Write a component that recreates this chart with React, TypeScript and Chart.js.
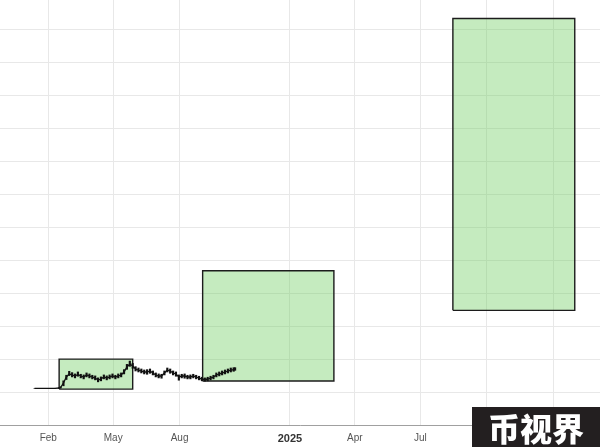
import React, { useEffect, useRef } from 'react';
import { Chart, registerables } from 'chart.js';

Chart.register(...registerables);

// ---- price series (daily-ish samples) ----
const priceDates = [
  '2024-01-13', '2024-02-10', '2024-02-16', '2024-02-18', '2024-02-22', '2024-02-26',
  '2024-03-01', '2024-03-05', '2024-03-09', '2024-03-13', '2024-03-17', '2024-03-21',
  '2024-03-25', '2024-03-29', '2024-04-02', '2024-04-06', '2024-04-10', '2024-04-14',
  '2024-04-18', '2024-04-22', '2024-04-26', '2024-04-30', '2024-05-04', '2024-05-08',
  '2024-05-12', '2024-05-16', '2024-05-20', '2024-05-24', '2024-05-28', '2024-06-01',
  '2024-06-05', '2024-06-09', '2024-06-13', '2024-06-17', '2024-06-21', '2024-06-25',
  '2024-06-29', '2024-07-03', '2024-07-07', '2024-07-11', '2024-07-15', '2024-07-19',
  '2024-07-23', '2024-07-27', '2024-07-31', '2024-08-04', '2024-08-08', '2024-08-12',
  '2024-08-16', '2024-08-20', '2024-08-24', '2024-08-28', '2024-09-01', '2024-09-05',
  '2024-09-09', '2024-09-13', '2024-09-17', '2024-09-21', '2024-09-25', '2024-09-29',
  '2024-10-03', '2024-10-07', '2024-10-11', '2024-10-15', '2024-10-17',
];
const priceClose = [
  11.14, 11.14, 11.23, 11.38, 12.75, 14.57,
  15.48, 15.18, 14.87, 15.33, 14.87, 14.57,
  15.18, 14.87, 14.57, 14.26, 13.66, 13.96,
  14.57, 14.26, 14.57, 14.87, 14.57, 14.87,
  15.18, 16.09, 17.6, 18.51, 17.91, 17.0,
  16.69, 16.39, 16.09, 16.09, 16.39, 15.78,
  15.18, 14.87, 14.87, 15.78, 16.69, 16.39,
  15.78, 15.48, 14.57, 14.87, 14.87, 14.57,
  14.57, 14.87, 14.57, 14.26, 13.96, 13.81,
  13.96, 14.26, 14.57, 15.18, 15.48, 15.78,
  16.09, 16.39, 16.69, 16.84, 17.0,
];
const priceHigh = [
  11.14, 11.14, 11.3, 11.6, 13.4, 15.1,
  16.3, 15.9, 15.5, 16.1, 15.4, 15.2,
  15.8, 15.5, 15.1, 14.9, 14.3, 14.6,
  15.2, 14.9, 15.2, 15.5, 15.1, 15.5,
  15.8, 16.8, 18.4, 19.4, 18.7, 17.7,
  17.3, 17.0, 16.7, 16.8, 17.0, 16.4,
  15.8, 15.5, 15.4, 16.4, 17.3, 17.0,
  16.4, 16.1, 15.2, 15.4, 15.5, 15.1,
  15.2, 15.4, 15.1, 14.8, 14.5, 14.3,
  14.5, 14.8, 15.1, 15.8, 16.1, 16.4,
  16.7, 17.0, 17.3, 17.4, 17.4,
];
const priceLow = [
  11.14, 11.14, 11.1, 11.2, 11.9, 13.8,
  15.0, 14.6, 14.3, 14.8, 14.3, 14.0,
  14.6, 14.3, 14.0, 13.7, 13.1, 13.4,
  14.0, 13.7, 14.0, 14.3, 14.0, 14.3,
  14.6, 15.5, 16.9, 17.8, 17.2, 16.4,
  16.1, 15.8, 15.5, 15.4, 15.7, 15.2,
  14.6, 14.3, 14.2, 15.2, 16.1, 15.7,
  15.2, 14.8, 13.6, 14.3, 14.2, 14.0,
  14.0, 14.3, 14.0, 13.7, 13.4, 13.3,
  13.4, 13.7, 14.0, 14.6, 14.9, 15.2,
  15.5, 15.8, 16.1, 16.3, 16.6,
];

// ---- green zones ----
const boxStart = ['2024-02-16', '2024-09-02', '2025-08-15'];
const boxEnd = ['2024-05-28', '2025-03-03', '2026-01-31'];
const boxLow = [10.9, 13.35, 34.8];
const boxHigh = [20.0, 46.8, 123.4];

// ---- axes ----
const tickDates = ['2024-02-01', '2024-05-01', '2024-08-01', '2025-01-01', '2025-04-01', '2025-07-01', '2025-10-01', '2026-01-01'];
const tickLabels = ['Feb', 'May', 'Aug', '2025', 'Apr', 'Jul', 'Oct', '2026'];
const xStart = '2023-11-26';
const xEnd = '2026-03-07';
const yMin = 0;
const yMax = 129;
const yStep = 10;

const EPOCH = Date.UTC(2024, 0, 1);
function day(s: string): number {
  const [y, m, d] = s.split('-').map(Number);
  return (Date.UTC(y, m - 1, d) - EPOCH) / 86400000;
}

const FONT = '"Liberation Sans", Arial, sans-serif';

export default function App() {
  const ref = useRef<HTMLCanvasElement | null>(null);

  useEffect(() => {
    if (!ref.current) return;
    const boxSets = boxStart.map((s, i) => {
      const l = day(s);
      const r = day(boxEnd[i]);
      const b = boxLow[i];
      const t = boxHigh[i];
      return {
        type: 'line' as const,
        data: [
          { x: l, y: b },
          { x: l, y: t },
          { x: r, y: t },
          { x: r, y: b },
          { x: l, y: b },
        ],
        borderColor: '#1c1c1c',
        borderWidth: 1.4,
        backgroundColor: 'rgba(110, 205, 95, 0.4)',
        fill: 'shape',
        pointRadius: 0,
        tension: 0,
      };
    });

    const chart = new Chart(ref.current, {
      type: 'line',
      data: {
        datasets: [
          {
            type: 'line',
            data: priceDates.map((d, i) => ({ x: day(d), y: priceClose[i] })),
            borderColor: '#111',
            borderWidth: 1.3,
            pointRadius: 0,
            tension: 0,
            fill: false,
          },
          {
            type: 'bar',
            data: priceDates.map((d, i) => ({ x: day(d), y: [priceLow[i], priceHigh[i]] })),
            backgroundColor: '#111',
            borderWidth: 0,
            barThickness: 1.5,
            grouped: false,
          } as any,
          ...(boxSets as any[]),
        ],
      },
      options: {
        animation: false,
        responsive: true,
        maintainAspectRatio: false,
        layout: { padding: 0 },
        plugins: { legend: { display: false }, tooltip: { enabled: false } },
        events: [],
        scales: {
          x: {
            type: 'linear',
            min: day(xStart),
            max: day(xEnd),
            offset: false,
            grid: { color: '#e8e8e8', drawTicks: false, offset: false },
            border: { display: true, color: '#a0a0a0', width: 1 },
            afterBuildTicks: (axis: any) => {
              axis.ticks = tickDates.map((d) => ({ value: day(d) }));
            },
            afterFit: (axis: any) => {
              axis.height = 22;
            },
            ticks: {
              autoSkip: false,
              maxRotation: 0,
              padding: 7,
              callback: (_v: any, i: number) => tickLabels[i],
              color: (ctx: any) => (/^\d{4}$/.test(tickLabels[ctx.index] || '') ? '#333' : '#555'),
              font: (ctx: any) =>
                /^\d{4}$/.test(tickLabels[ctx.index] || '')
                  ? { family: FONT, size: 11, weight: 'bold' }
                  : { family: FONT, size: 10, weight: 'normal' },
            },
          },
          y: {
            type: 'linear',
            min: yMin,
            max: yMax,
            grid: { color: '#e8e8e8', drawTicks: false },
            border: { display: false },
            afterBuildTicks: (axis: any) => {
              const t = [];
              for (let v = yMin; v <= yMax; v += yStep) t.push({ value: v });
              axis.ticks = t;
            },
            afterFit: (axis: any) => {
              axis.width = 0;
            },
            ticks: { display: false },
          },
        },
      } as any,
    });
    return () => chart.destroy();
  }, []);

  return (
    <div style={{ position: 'absolute', left: 0, top: 0, width: 600, height: 447, background: '#fff' }}>
      <canvas ref={ref} style={{ display: 'block' }} />
      <div
        style={{
          position: 'absolute',
          left: 472,
          top: 407,
          width: 128,
          height: 40,
          background: '#231f20',
          color: '#fff',
          fontFamily: '"Noto Sans CJK SC", sans-serif',
          fontWeight: 900,
          fontSize: 32,
          lineHeight: '40px',
          textAlign: 'center',
          letterSpacing: 0,
        }}
      >
        币视界
      </div>
    </div>
  );
}
